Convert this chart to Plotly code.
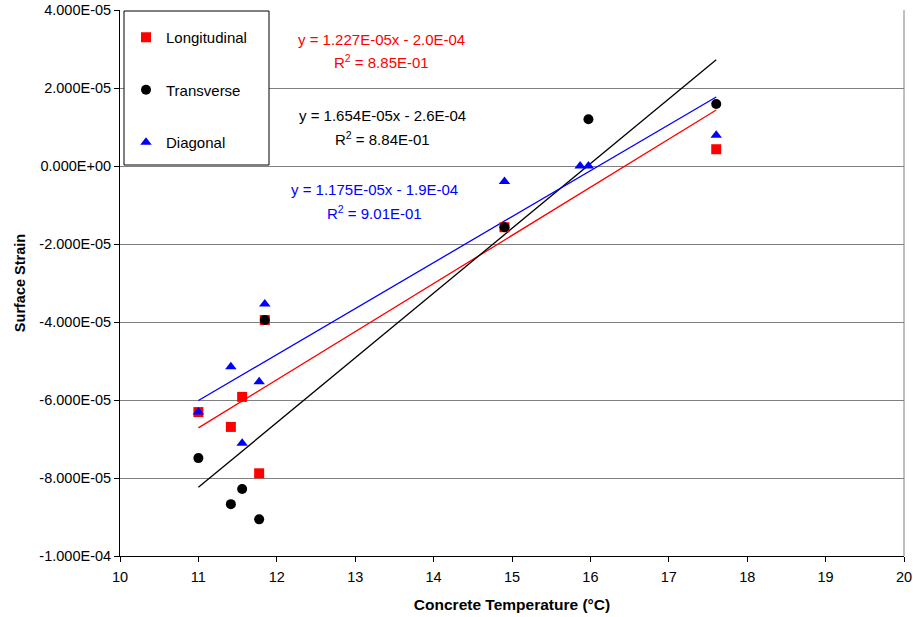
import numpy as np
import plotly.graph_objects as go

# ---------------- data ----------------
long_x = [11.0, 11.414, 11.558, 11.775, 11.847, 14.904, 17.605]
long_y = [-6.31e-5, -6.69e-5, -5.92e-5, -7.88e-5, -3.95e-5, -1.57e-5, 0.43e-5]

trans_x = [11.0, 11.414, 11.558, 11.775, 11.847, 14.904, 15.975, 17.605]
trans_y = [-7.49e-5, -8.67e-5, -8.28e-5, -9.06e-5, -3.95e-5, -1.57e-5, 1.20e-5, 1.59e-5]

diag_x = [11.0, 11.414, 11.558, 11.775, 11.847, 14.904, 15.869, 15.975, 17.605]
diag_y = [-6.31e-5, -5.15e-5, -7.11e-5, -5.53e-5, -3.54e-5, -0.40e-5, 0.0, 0.0, 0.79e-5]

series_names = ["Longitudinal", "Transverse", "Diagonal"]
# linear trendline coefficients (slope, intercept) as drawn in the chart
trend_slope = [1.234e-5, 1.660e-5, 1.178e-5]
trend_intercept = [-2.029e-4, -2.650e-4, -1.897e-4]
trend_eq = ["y = 1.227E-05x - 2.0E-04", "y = 1.654E-05x - 2.6E-04", "y = 1.175E-05x - 1.9E-04"]
trend_r2 = ["R<sup>2</sup> = 8.85E-01", "R<sup>2</sup> = 8.84E-01", "R<sup>2</sup> = 9.01E-01"]

y_tickvals = [-1e-4, -8e-5, -6e-5, -4e-5, -2e-5, 0, 2e-5, 4e-5]
y_ticktext = ["-1.000E-04", "-8.000E-05", "-6.000E-05", "-4.000E-05",
              "-2.000E-05", "0.000E+00", "2.000E-05", "4.000E-05"]
x_tickvals = list(range(10, 21))

# ---------------- figure ----------------
colors = ["#ff0000", "#000000", "#0000ff"]
symbols = ["square", "circle", "triangle-up"]
xs = [long_x, trans_x, diag_x]
ys = [long_y, trans_y, diag_y]

fig = go.Figure()

# trendlines
for i in range(3):
    xl = np.array([min(xs[i]), max(xs[i])])
    yl = trend_slope[i] * xl + trend_intercept[i]
    fig.add_trace(go.Scatter(x=xl, y=yl, mode="lines", showlegend=False,
                             line=dict(color=colors[i], width=1.3), hoverinfo="skip"))

# markers
for i in range(3):
    fig.add_trace(go.Scatter(x=xs[i], y=ys[i], mode="markers", name=series_names[i],
                             legendgroup=series_names[i],
                             marker=dict(color=colors[i], symbol=symbols[i], size=10,
                                         line=dict(width=0))))

FONT = "Liberation Sans, Arial, sans-serif"

W, H = 913, 617
ml, mr, mt, mb = 120, 9, 10, 61
pw, ph = W - ml - mr, H - mt - mb

def px2paper_x(px):
    return (px - ml) / pw

def px2paper_y(py):
    return 1 - (py - mt) / ph

# equation annotations
eq_pos = [(381, 39, 61), (382, 116, 138), (374, 190, 212)]
annotations = []
for i in range(3):
    cx, y1, y2 = eq_pos[i]
    annotations.append(dict(x=px2paper_x(cx), y=px2paper_y(y1), xref="paper", yref="paper",
                            text=trend_eq[i], showarrow=False, xanchor="center", yanchor="middle",
                            font=dict(family=FONT, size=15, color=colors[i])))
    annotations.append(dict(x=px2paper_x(cx), y=px2paper_y(y2), xref="paper", yref="paper",
                            text=trend_r2[i], showarrow=False, xanchor="center", yanchor="middle",
                            font=dict(family=FONT, size=15, color=colors[i])))

fig.update_layout(
    width=W, height=H, autosize=False,
    margin=dict(l=ml, r=mr, t=mt, b=mb, pad=0, autoexpand=False),
    paper_bgcolor="white", plot_bgcolor="white",
    font=dict(family=FONT, size=14, color="black"),
    showlegend=True,
    legend=dict(x=px2paper_x(126), y=px2paper_y(21), xanchor="left", yanchor="top",
                bgcolor="rgba(0,0,0,0)", borderwidth=0,
                font=dict(family=FONT, size=15, color="black"),
                tracegroupgap=30, traceorder="grouped", itemwidth=30),
    annotations=annotations,
    shapes=[
        dict(type="rect", xref="paper", yref="paper",
             x0=px2paper_x(124), x1=px2paper_x(269), y0=px2paper_y(165), y1=px2paper_y(11),
             line=dict(color="black", width=1), fillcolor="white", layer="above"),
        # gray frame right side
        dict(type="line", xref="paper", yref="paper", x0=1, x1=1, y0=0, y1=1,
             line=dict(color="#808080", width=1)),
    ],
    xaxis=dict(range=[10, 20], tickvals=x_tickvals, showgrid=False, zeroline=False,
               showline=True, linecolor="black", linewidth=1, ticks="outside",
               ticklen=5, tickcolor="black", ticklabelstandoff=3,
               tickfont=dict(family=FONT, size=14.5),
               title=dict(text="<b>Concrete Temperature (°C)</b>",
                          font=dict(family=FONT, size=15.5), standoff=14)),
    yaxis=dict(range=[-1e-4, 4e-5], tickvals=y_tickvals, ticktext=y_ticktext,
               showgrid=True, gridcolor="#808080", gridwidth=1, zeroline=False,
               showline=True, linecolor="black", linewidth=1, ticks="outside",
               ticklen=5, tickcolor="black",
               tickfont=dict(family=FONT, size=14.5),
               title=dict(text="<b>Surface Strain</b>",
                          font=dict(family=FONT, size=14.5), standoff=10)),
)

fig.write_html("out.html",
               config={"displayModeBar": False, "responsive": False},
               post_script="document.body.style.margin='0';document.body.style.padding='0';")
